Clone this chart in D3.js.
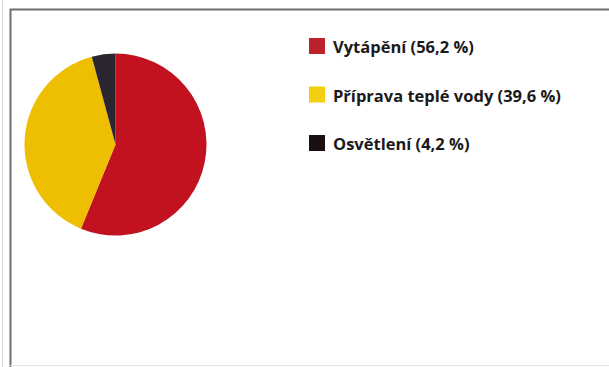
<!DOCTYPE html>
<html>
<head>
<meta charset="utf-8">
<script src="https://cdn.jsdelivr.net/npm/d3@7"></script>
<style>
  html, body { margin: 0; padding: 0; background: #fff; }
  svg { display: block; }
</style>
</head>
<body>
<svg id="chart" width="609" height="367"></svg>
<script>
// Energy consumption shares
const categories = ["Vytápění", "Příprava teplé vody", "Osvětlení"];
const shares = [56.2, 39.6, 4.2];
const colors = ["#c2121f", "#eebf00", "#2b2530"];
const legendColors = ["#bb2229", "#f4cf10", "#1a1014"];

const svg = d3.select("#chart");

// frame
svg.append("line").attr("x1", 2.5).attr("x2", 2.5).attr("y1", 0).attr("y2", 367)
  .attr("stroke", "#d8d8d8").attr("stroke-width", 1);
svg.append("path")
  .attr("d", "M10.5,367 L10.5,9.5 L609,9.5")
  .attr("fill", "none").attr("stroke", "#6e6e6e").attr("stroke-width", 2);
svg.append("line").attr("x1", 10).attr("x2", 609).attr("y1", 365.5).attr("y2", 365.5)
  .attr("stroke", "#e4e4e4").attr("stroke-width", 1);

const data = categories.map((c, i) => ({ name: c, value: shares[i], color: colors[i], legend: legendColors[i] }));

const pie = d3.pie().value(d => d.value).sort(null);
const arc = d3.arc().innerRadius(0).outerRadius(91);

const g = svg.append("g").attr("transform", "translate(115.5,144.5)");
g.selectAll("path")
  .data(pie(data))
  .join("path")
  .attr("d", arc)
  .attr("fill", d => d.data.color);

// legend
const legend = svg.append("g").attr("transform", "translate(309,38)");
const rowGap = 48.5;
const items = legend.selectAll("g")
  .data(data)
  .join("g")
  .attr("transform", (d, i) => `translate(0,${i * rowGap})`);
items.append("rect")
  .attr("width", 16).attr("height", 16)
  .attr("fill", d => d.legend);
items.append("text")
  .attr("x", 24).attr("y", 15)
  .attr("font-family", "'Open Sans', sans-serif")
  .attr("font-weight", "bold")
  .attr("font-size", 16.5)
  .attr("fill", "#1a1a1a")
  .text(d => `${d.name} (${d3.format(".1f")(d.value).replace(".", ",")} %)`);
</script>
</body>
</html>
